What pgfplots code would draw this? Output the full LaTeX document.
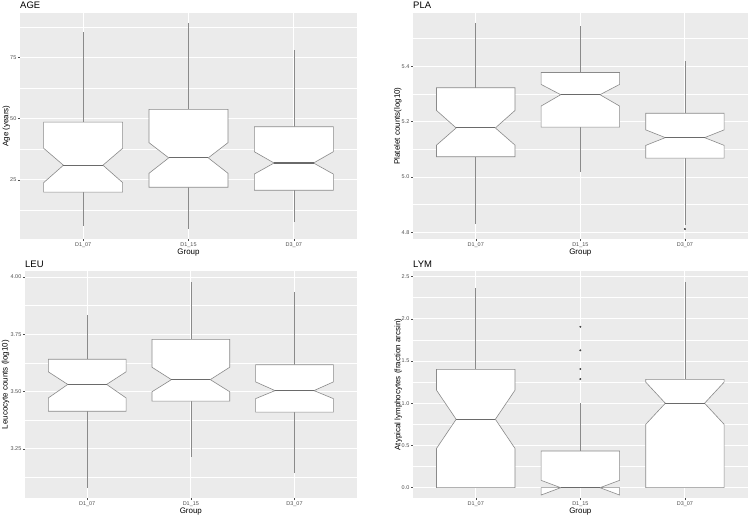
\documentclass[border=0pt]{standalone}
\usepackage{pgfplots}
\pgfplotsset{compat=1.18}
\usepackage{fontspec}
\setmainfont{Liberation Sans}
\definecolor{bggray}{HTML}{EBEBEB}
\definecolor{lgray}{HTML}{4D4D4D}
\definecolor{boxline}{HTML}{8A8A8A}
\definecolor{medline}{HTML}{6A6A6A}

\pgfplotsset{
  whisk/.style={boxline, line width=0.6bp, mark=none},
  boxst/.style={draw=boxline, fill=white, line width=0.6bp, mark=none, line join=miter},
  medst/.style={medline, line width=1.1bp, mark=none},
  outl/.style={only marks, mark=*, mark size=0.75bp, draw=black!75, fill=black!75},
  every axis title shift=0pt,
  ggbox/.style={
    scale only axis, anchor=south west,
    xmin=0.4, xmax=3.6, xtick={1,2,3}, xticklabels={D1\_07,D1\_15,D3\_07},
    axis background/.style={fill=bggray},
    axis line style={draw=none},
    grid=both,
    major grid style={white, line width=0.9bp},
    minor grid style={white, line width=0.45bp},
    tick align=outside, tick pos=left,
    major tick length=2bp, minor tick length=0pt,
    tick style={lgray, line width=0.5bp},
    ticklabel style={font=\fontsize{5.5}{6}\selectfont, text=lgray},
    xticklabel style={anchor=north, inner sep=0pt, yshift=-1.5bp},
    yticklabel style={anchor=east, inner sep=0pt, xshift=-1.5bp},
    label style={font=\fontsize{8}{9.5}\selectfont},
    xlabel=Group,
    xlabel style={at={(axis description cs:0.5,0)}, anchor=base, inner sep=0pt, yshift=-15.5bp},
    title style={at={(axis description cs:0,1)}, anchor=base west, inner sep=0pt, yshift=4bp,
      font=\fontsize{9.5}{11}\selectfont},
  },
  ylab/.style={ylabel style={at={(axis description cs:#1,0.5)}, anchor=base, rotate=0, inner sep=0pt}},
}

% #1 x, #2 lower whisker, #3 Q1, #4 notch low, #5 median, #6 notch high, #7 Q3, #8 upper whisker
\newcommand{\nbox}[8]{%
  \pgfmathsetmacro{\xl}{#1-0.375}%
  \pgfmathsetmacro{\xr}{#1+0.375}%
  \pgfmathsetmacro{\xil}{#1-0.1875}%
  \pgfmathsetmacro{\xir}{#1+0.1875}%
  \edef\nboxcmd{%
    \noexpand\addplot[whisk] coordinates {(#1,#3) (#1,#2)};
    \noexpand\addplot[whisk] coordinates {(#1,#7) (#1,#8)};
    \noexpand\addplot[boxst] coordinates {(\xl,#7) (\xl,#6) (\xil,#5) (\xl,#4) (\xl,#3) (\xr,#3) (\xr,#4) (\xir,#5) (\xr,#6) (\xr,#7)} -- cycle;
    \noexpand\addplot[medst] coordinates {(\xil,#5) (\xir,#5)};
  }\nboxcmd}

\begin{document}
\begin{tikzpicture}
\path[use as bounding box] (0,0) rectangle (750bp,517bp);

% AGE
\begin{axis}[ggbox, at={(20bp,278bp)}, width=337bp, height=226bp,
  title={AGE}, ylabel={Age (years)}, ylab=-0.0347,
  ymin=0.9, ymax=93.1, ytick={25,50,75}, yticklabels={25,50,75},
  minor ytick={12.5,37.5,62.5,87.5}]
\nbox{1}{6}{20}{23.9}{31}{37.9}{48.6}{85.2}
\nbox{2}{4.9}{22}{27.7}{34}{40.2}{53.8}{89.1}
\nbox{3}{8}{20.8}{27.4}{31.9}{36.5}{46.7}{78}
\end{axis}

% PLA
\begin{axis}[ggbox, at={(413bp,277.7bp)}, width=334.7bp, height=226.6bp,
  title={PLA}, ylabel={Platelet counts(log10)}, ylab=-0.039,
  ymin=4.775, ymax=5.593, ytick={4.8,5.0,5.2,5.4}, yticklabels={4.8,5.0,5.2,5.4},
  minor ytick={4.9,5.1,5.3,5.5}]
\nbox{1}{4.831}{5.073}{5.115}{5.177}{5.240}{5.322}{5.556}
\nbox{2}{5.017}{5.180}{5.256}{5.297}{5.334}{5.377}{5.544}
\nbox{3}{4.828}{5.068}{5.114}{5.142}{5.170}{5.230}{5.418}
\addplot[outl] coordinates {(3,4.812)};
\end{axis}

% LEU
\begin{axis}[ggbox, at={(25bp,19bp)}, width=331.7bp, height=226.7bp,
  title={LEU}, ylabel={Leucocyte counts (log10)}, ylab=-0.0522,
  ymin=3.035, ymax=4.025, ytick={3.25,3.5,3.75,4.0}, yticklabels={3.25,3.50,3.75,4.00},
  minor ytick={3.125,3.375,3.625,3.875}]
\nbox{1}{3.080}{3.414}{3.472}{3.531}{3.586}{3.641}{3.833}
\nbox{2}{3.214}{3.458}{3.499}{3.552}{3.606}{3.728}{3.979}
\nbox{3}{3.145}{3.410}{3.469}{3.504}{3.542}{3.617}{3.936}
\end{axis}

% LYM
\begin{axis}[ggbox, at={(413bp,19bp)}, width=334.7bp, height=226.7bp,
  title={LYM}, ylabel={Atypical lymphocytes (fraction arcsin)}, ylab=-0.0377,
  ymin=-0.122, ymax=2.562, ytick={0,0.5,1,1.5,2,2.5}, yticklabels={0.0,0.5,1.0,1.5,2.0,2.5},
  minor ytick={0.25,0.75,1.25,1.75,2.25}]
\nbox{1}{0}{0}{0.465}{0.81}{1.154}{1.40}{2.37}
\nbox{2}{0}{0}{-0.087}{0}{0.087}{0.434}{1.0}
\nbox{3}{0}{0}{0.75}{1.0}{1.25}{1.282}{2.44}
\addplot[outl] coordinates {(2,1.905) (2,1.626) (2,1.405) (2,1.286)};
\end{axis}
\end{tikzpicture}
\end{document}
